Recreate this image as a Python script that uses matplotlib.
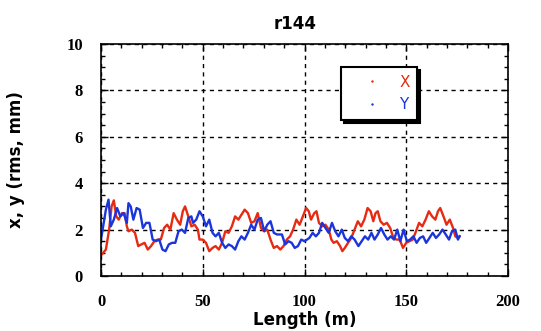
import numpy as np
import matplotlib
matplotlib.use("Agg")
from matplotlib import pyplot as plt
from matplotlib.lines import Line2D
from matplotlib.ticker import MultipleLocator

# rms beam size along the line
x_pos = [0, 2.4, 4.0, 5.2, 6.3, 7.5, 8.7, 10.3, 11.6, 12.7, 13.5, 15.1, 16.7, 17.5,
         18.3, 19.8, 21.4, 23.0, 24.6, 26.2, 27.8, 29.4, 31.0, 32.5, 34.1, 35.7,
         37.3, 38.9, 40.2, 41.3, 42.9, 44.4, 46.0, 47.6, 48.4, 50.0, 51.6, 53.2,
         54.8, 56.3, 57.9, 59.5, 61.1, 62.7, 64.3, 65.9, 67.5, 69.0, 70.6, 72.2,
         73.8, 75.4, 77.0, 78.6, 80.2, 81.7, 83.3, 84.9, 86.5, 88.1, 89.7, 91.3,
         92.9, 94.4, 96.0, 97.6, 99.2, 100.8, 102.1, 103.2, 104.8, 105.9, 107.1,
         108.7, 110.3, 111.9, 113.2, 114.3, 115.9, 117.5, 118.6, 119.8, 121.4,
         123.0, 124.6, 126.2, 127.8, 129.4, 131.0, 132.5, 133.8, 134.9, 136.0,
         137.3, 138.9, 140.5, 142.1, 143.7, 145.2, 146.8, 148.4, 150.0, 151.6,
         153.2, 154.8, 156.3, 157.9, 159.5, 161.1, 162.7, 164.3, 165.6, 166.7,
         168.3, 169.8, 171.4, 173.0, 174.1, 175.4, 176.2]
x_rms = [0.89, 1.14, 2.0, 3.0, 3.26, 2.57, 2.43, 2.71, 2.71, 2.14, 1.93, 2.0, 1.86, 1.57,
         1.29, 1.36, 1.43, 1.14, 1.29, 1.5, 1.57, 1.57, 2.07, 2.21, 2.0, 2.71,
         2.43, 2.21, 2.79, 3.0, 2.57, 2.14, 2.21, 2.0, 1.57, 1.57, 1.43, 1.07,
         1.21, 1.29, 1.14, 1.43, 1.93, 1.86, 2.14, 2.57, 2.43, 2.64, 2.86, 2.71,
         2.29, 2.36, 2.71, 2.07, 1.93, 2.0, 1.57, 1.21, 1.29, 1.14, 1.29, 1.57,
         1.71, 2.0, 2.43, 2.21, 2.57, 2.93, 2.79, 2.43, 2.71, 2.79, 2.29,
         2.14, 2.21, 2.0, 1.57, 1.43, 1.5, 1.29, 1.07, 1.21, 1.43,
         1.64, 2.0, 2.36, 2.14, 2.43, 2.93, 2.79, 2.36, 2.71, 2.79,
         2.36, 2.21, 2.29, 2.07, 1.64, 1.57, 1.57, 1.21, 1.43, 1.5,
         1.57, 1.93, 2.29, 2.14, 2.43, 2.79, 2.57, 2.43, 2.79, 2.93,
         2.57, 2.21, 2.43, 2.07, 1.71, 1.64, 1.71]

y_pos = [0, 2.4, 3.7, 4.8, 6.3, 7.9, 9.5, 11.1, 12.7, 13.5, 14.6, 15.9, 17.5, 19.0,
         20.6, 22.2, 23.8, 25.4, 27.0, 28.6, 30.2, 31.7, 33.3, 34.9, 36.5, 38.1,
         39.7, 41.3, 42.9, 44.4, 45.2, 46.8, 48.4, 50.0, 51.6, 53.2, 54.8, 56.3,
         57.9, 59.5, 61.1, 62.7, 64.3, 65.9, 67.5, 69.0, 70.6, 72.2, 73.8, 75.4,
         77.0, 78.6, 80.2, 81.7, 83.3, 84.9, 86.5, 88.9, 90.5, 92.1, 93.7, 95.2,
         96.8, 98.4, 100.0, 102.4, 104.0, 105.6, 107.1, 108.7, 110.3, 111.9,
         113.5, 115.1, 116.7, 118.3, 119.8, 121.4, 123.0, 124.6, 126.5, 128.1,
         129.7, 131.3, 132.9, 134.4, 136.0, 137.6, 139.2, 140.8, 142.4, 144.0,
         145.6, 147.1, 148.7, 150.3, 151.9, 153.5, 155.1, 156.7, 158.3, 159.8,
         161.4, 163.0, 164.6, 166.2, 167.8, 169.4, 171.0, 172.5, 174.1, 175.4, 176.2]
y_rms = [1.57, 2.86, 3.29, 2.14, 2.43, 2.93, 2.57, 2.71, 2.29, 3.14, 3.0, 2.43, 2.93, 2.86,
         2.07, 2.29, 2.29, 1.57, 1.5, 1.57, 1.14, 1.07, 1.36, 1.43, 1.43, 1.93,
         2.0, 1.86, 2.5, 2.57, 2.29, 2.43, 2.79, 2.57, 2.14, 2.43, 1.86, 1.71,
         1.86, 1.43, 1.21, 1.36, 1.29, 1.14, 1.5, 1.71, 1.57, 1.86, 2.21, 2.0,
         2.43, 2.5, 1.93, 2.21, 2.36, 1.86, 1.79, 1.79, 1.36, 1.5, 1.43, 1.21,
         1.29, 1.57, 1.5, 1.64, 1.86, 1.71, 1.86, 2.29, 2.07, 1.86,
         2.29, 1.93, 1.71, 2.0, 1.64, 1.5, 1.71, 1.57, 1.29, 1.5,
         1.71, 1.57, 1.86, 1.57, 1.79, 2.07, 1.79, 1.57, 1.71, 1.57,
         2.0, 1.5, 2.0, 1.5, 1.57, 1.71, 1.43, 1.64, 1.71, 1.43,
         1.64, 1.86, 1.64, 1.79, 2.0, 1.79, 1.57, 1.93, 2.0, 1.57, 1.71]

red = '#e62b12'
blue = '#1b35dd'

fig = plt.figure(figsize=(5.41, 3.31), dpi=100)
ax = fig.add_axes([101 / 541, 55 / 331, 407 / 541, 232 / 331])

ax.plot(x_pos, x_rms, color=red, lw=1.7)
ax.plot(y_pos, y_rms, color=blue, lw=1.7)

ax.set_xlim(0, 200)
ax.set_ylim(0, 10)
ax.xaxis.set_major_locator(MultipleLocator(50))
ax.xaxis.set_minor_locator(MultipleLocator(10))
ax.yaxis.set_major_locator(MultipleLocator(2))
ax.yaxis.set_minor_locator(MultipleLocator(0.5))
ax.tick_params(which='both', direction='in', top=True, right=True, width=1)
ax.tick_params(which='major', length=5, pad=13)
ax.tick_params(which='minor', length=3)
for lab in ax.get_xticklabels() + ax.get_yticklabels():
    lab.set_fontfamily('Liberation Serif')
    lab.set_fontweight('bold')
    lab.set_fontsize(12)
for sp in ax.spines.values():
    sp.set_linewidth(1.2)
ax.grid(True, which='major', color='black', linestyle=(0, (3, 3)), lw=1)

ax.set_xlabel('Length (m)', fontsize=12, fontweight='bold', labelpad=1)
ax.set_ylabel('x, y (rms, mm)', fontsize=12, fontweight='bold', labelpad=30)
fig.text(295 / 541, 1 - 24 / 331, 'r144', ha='center', va='center',
         fontsize=12, fontweight='bold')

handles = [Line2D([], [], color=red, marker='.', markersize=1.5, linestyle='none'),
           Line2D([], [], color=blue, marker='.', markersize=1.5, linestyle='none')]
leg = ax.legend(handles, ['X', 'Y'], loc='upper left',
                bbox_to_anchor=(240 / 407, 209 / 232), fontsize=11,
                labelcolor='linecolor', fancybox=False,
                shadow={'color': 'black', 'alpha': 1},
                edgecolor='black', framealpha=1, handlelength=3,
                handletextpad=0.3, borderpad=0.5, labelspacing=0.5,
                borderaxespad=0)
leg.get_frame().set_linewidth(1.5)

fig.savefig('out.png', dpi=100)
